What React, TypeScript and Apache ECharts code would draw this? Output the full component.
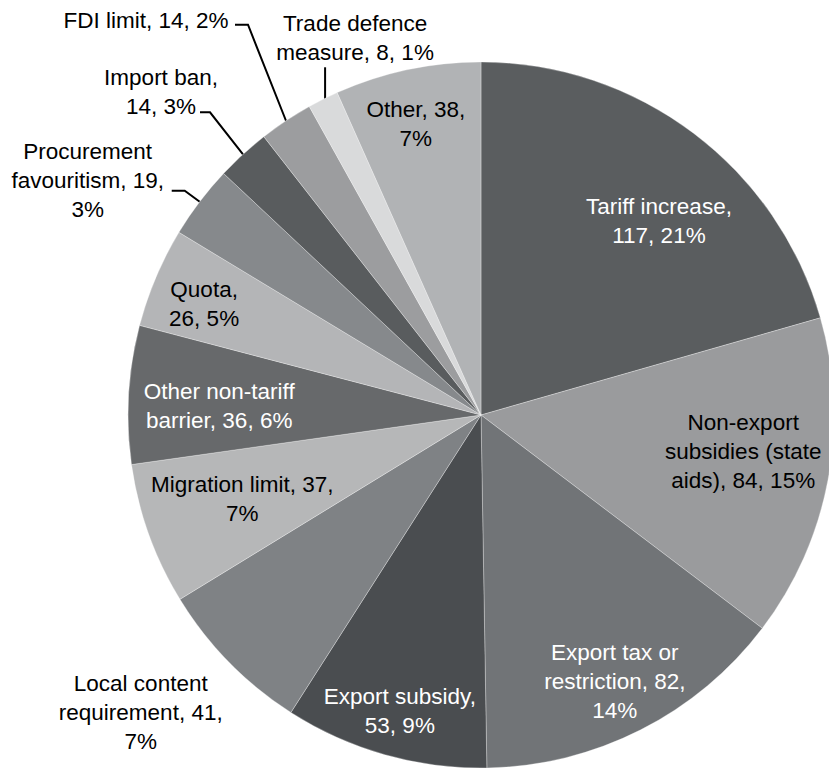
import React, { useEffect, useRef } from 'react';
import * as echarts from 'echarts';

const categories = [
  'Tariff increase',
  'Non-export subsidies (state aids)',
  'Export tax or restriction',
  'Export subsidy',
  'Local content requirement',
  'Migration limit',
  'Other non-tariff barrier',
  'Quota',
  'Procurement favouritism',
  'Import ban',
  'FDI limit',
  'Trade defence measure',
  'Other',
];
const counts = [117, 84, 82, 53, 41, 37, 36, 26, 19, 14, 14, 8, 38];
const percents = [21, 15, 14, 9, 7, 7, 6, 5, 3, 3, 2, 1, 7];

const sliceColors = [
  '#5a5d5f', '#9a9b9d', '#717477', '#4a4d50', '#7f8285', '#b6b7b8', '#67696b',
  '#b4b5b7', '#86898c', '#595c5e', '#9c9d9f', '#d9dadb', '#b1b3b5',
];
const labelColors = [
  '#ffffff', '#000000', '#ffffff', '#ffffff', '#000000', '#000000', '#ffffff',
  '#000000', '#000000', '#000000', '#000000', '#000000', '#000000',
];
// words per label line
const lineWords = [
  [2, 2], [1, 2, 3], [3, 2, 1], [2, 2], [2, 2, 1], [3, 1], [2, 3],
  [1, 2], [1, 2, 1], [2, 2], [4], [2, 3], [2, 1],
];

type Place =
  | { kind: 'radial'; r: number; shift: number }
  | { kind: 'leader'; label: [number, number]; line: [number, number][] };

const places: Place[] = [
  { kind: 'radial', r: 0.746, shift: -5.5 },
  { kind: 'radial', r: 0.75, shift: 2.7 },
  { kind: 'radial', r: 0.844, shift: -0.2 },
  { kind: 'radial', r: 0.87, shift: 0.5 },
  { kind: 'radial', r: 1.28, shift: -3.3 },
  { kind: 'radial', r: 0.717, shift: -0.4 },
  { kind: 'radial', r: 0.742, shift: 1.3 },
  { kind: 'radial', r: 0.845, shift: 1.1 },
  { kind: 'leader', label: [-112, -21], line: [[0, 0], [-15, -11], [-28, -11]] },
  { kind: 'leader', label: [-82, -62], line: [[0, 0], [-33, -42], [-43, -42]] },
  { kind: 'leader', label: [-140, -100], line: [[0, 0], [-38, -96], [-51, -96]] },
  { kind: 'leader', label: [32, -61], line: [[2, 0], [2, -32]] },
  { kind: 'radial', r: 0.845, shift: 0.6 },
];

const CX = 481;
const CY = 415;
const R = 353;

function labelText(i: number): string {
  const words = `${categories[i]}, ${counts[i]}, ${percents[i]}%`.split(' ');
  const lines: string[] = [];
  let k = 0;
  for (const n of lineWords[i]) {
    lines.push(words.slice(k, k + n).join(' '));
    k += n;
  }
  return lines.join('\n');
}

function midAngle(i: number): number {
  const total = counts.reduce((a, b) => a + b, 0);
  let cum = 0;
  for (let j = 0; j < i; j++) cum += counts[j];
  const theta = ((cum + counts[i] / 2) / total) * 360;
  return 90 - theta; // standard math angle in degrees
}

function polar(r: number, deg: number): [number, number] {
  const a = (deg * Math.PI) / 180;
  return [CX + r * Math.cos(a), CY - r * Math.sin(a)];
}

export default function App() {
  const ref = useRef<HTMLDivElement>(null);
  useEffect(() => {
    if (!ref.current) return;
    const chart = echarts.init(ref.current, undefined, { renderer: 'svg' });
    const data = categories.map((name, i) => {
      const p = places[i];
      const isLeader = p.kind === 'leader';
      const outside = isLeader || (p.kind === 'radial' && p.r > 1);
      return {
        name,
        value: counts[i],
        itemStyle: { color: sliceColors[i] },
        label: {
          show: true,
          position: outside ? 'outside' : 'inside',
          color: labelColors[i],
          formatter: () => labelText(i),
        },
        labelLine: {
          show: isLeader,
          lineStyle: { color: '#000000', width: 2 },
        },
      };
    });
    chart.setOption({
      animation: false,
      backgroundColor: '#ffffff',
      series: [
        {
          type: 'pie',
          center: [CX, CY],
          radius: R,
          startAngle: 90,
          clockwise: true,
          avoidLabelOverlap: false,
          minShowLabelAngle: 0,
          silent: true,
          itemStyle: { borderColor: 'rgba(255,255,255,0.6)', borderWidth: 0.5 },
          label: {
            fontFamily: '"Liberation Sans", Arial, sans-serif',
            fontSize: 22.5,
            lineHeight: 29,
            align: 'center',
          },
          labelLayout: (params: any) => {
            const i = params.dataIndex;
            const p = places[i];
            const mid = midAngle(i);
            if (p.kind === 'radial') {
              const [x, y] = polar(p.r * R, mid + p.shift);
              return { x, y, align: 'center', verticalAlign: 'middle' };
            }
            const [ex, ey] = polar(R, mid);
            return {
              x: ex + p.label[0],
              y: ey + p.label[1],
              align: 'center',
              verticalAlign: 'middle',
              labelLinePoints: p.line.map(([dx, dy]) => [ex + dx, ey + dy]),
            };
          },
          data,
        },
      ],
    });
    return () => chart.dispose();
  }, []);
  return (
    <div
      ref={ref}
      style={{ position: 'absolute', left: 0, top: 0, width: 829, height: 769 }}
    />
  );
}
